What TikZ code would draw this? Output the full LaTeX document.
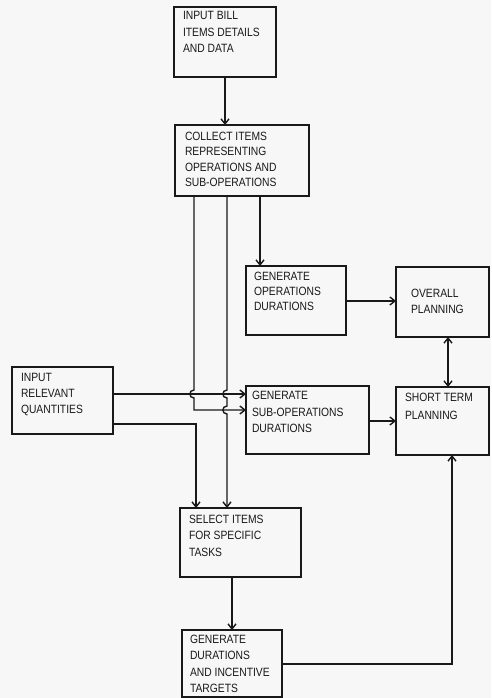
\documentclass[tikz,border=0pt]{standalone}
\usepackage{fontspec}
\setmainfont[FakeStretch=0.86]{Liberation Sans}
\usetikzlibrary{arrows.meta,calc}
\definecolor{paper}{RGB}{247,247,247}
\definecolor{ink}{RGB}{25,25,25}
\tikzset{
  box/.style={draw=ink, line width=1.4pt, inner sep=0pt, outer sep=0pt, anchor=north west},
  txt/.style={inner sep=0pt, outer sep=0pt, anchor=north west, align=left, text=ink},
  arr/.style={draw=ink, line width=1.4pt, -{Straight Barb[length=5pt,width=8pt]}},
  arrboth/.style={draw=ink, line width=1.4pt, {Straight Barb[length=5pt,width=8pt]}-{Straight Barb[length=5pt,width=8pt]}}
}
\newcommand{\fs}[1]{\fontsize{12}{#1}\selectfont}
\begin{document}
\begin{tikzpicture}[x=1pt,y=-1pt]
\fill[paper] (0,0) rectangle (491,698);
\useasboundingbox (0,0) rectangle (491,698);

% boxes
\node[box, minimum width=102, minimum height=70] (b1) at (174,7) {};
\node[box, minimum width=134, minimum height=71] (b2) at (175,125) {};
\node[box, minimum width=100, minimum height=69] (b3) at (246,266) {};
\node[box, minimum width=93,  minimum height=70] (b4) at (396,267) {};
\node[box, minimum width=101, minimum height=67] (b5) at (12,367) {};
\node[box, minimum width=123, minimum height=68] (b6) at (246,386) {};
\node[box, minimum width=93,  minimum height=68] (b7) at (396,387) {};
\node[box, minimum width=121, minimum height=69] (b8) at (180,508) {};
\node[box, minimum width=100, minimum height=67] (b9) at (182,630) {};

% texts
\node[txt, font=\fs{16.5}] (t1) at (183,11.7) {INPUT BILL\\ITEMS DETAILS\\AND DATA};
\node[txt, font=\fs{15.5}] (t2) at (185,131.7) {COLLECT ITEMS\\REPRESENTING\\OPERATIONS AND\\SUB-OPERATIONS};
\node[txt, font=\fs{15}] (t3) at (254,271.7) {GENERATE\\OPERATIONS\\DURATIONS};
\node[txt, font=\fs{16}] (t4) at (411,288.7) {OVERALL\\PLANNING};
\node[txt, font=\fs{15.8}] (t5) at (21,373.7) {INPUT\\RELEVANT\\QUANTITIES};
\node[txt, font=\fs{16.5}] (t6) at (252,391.2) {GENERATE\\SUB-OPERATIONS\\DURATIONS};
\node[txt, font=\fs{17.5}] (t7) at (405,393.2) {SHORT TERM\\PLANNING};
\node[txt, font=\fs{16.5}] (t8) at (189,514.7) {SELECT ITEMS\\FOR SPECIFIC\\TASKS};
\node[txt, font=\fs{16.5}] (t9) at (190,634.7) {GENERATE\\DURATIONS\\AND INCENTIVE\\TARGETS};

% helper coordinates (columns and rows)
\coordinate (cA) at (194,0);
\coordinate (cA2) at (196,0);
\coordinate (cB) at (227,0);
\coordinate (cC) at (260,0);
\coordinate (cD) at (448,0);
\coordinate (cE) at (452,0);
\coordinate (cF) at (232,0);
\coordinate (r1) at (0,301);
\coordinate (r2) at (0,394);
\coordinate (r3) at (0,410);
\coordinate (r4) at (0,421);
\coordinate (r5) at (0,424);
\coordinate (r6) at (0,664);

% connectors
\draw[arr] (b1.south) -- (b1.south |- b2.north);
\draw[arr] (b2.south -| cC) -- (b3.north -| cC);
\draw[arr] (b2.south -| cA) -- ($(cA |- r2)+(0,-4)$)
   .. controls +(-5.5,0) and +(-5.5,0) .. +(0,8)
   -- (cA |- r3) -- (b6.west |- r3);
\draw[arr] (b2.south -| cB) -- ($(cB |- r2)+(0,-4)$)
   .. controls +(-5.5,0) and +(-5.5,0) .. +(0,8)
   -- ($(cB |- r3)+(0,-4)$)
   .. controls +(-5.5,0) and +(-5.5,0) .. +(0,8)
   -- (b8.north -| cB);
\draw[arr] (b5.east |- r2) -- (b6.west |- r2);
\draw[arr] (b5.east |- r5) -- (cA2 |- r5) -- (b8.north -| cA2);
\draw[arr] (b3.east |- r1) -- (b4.west |- r1);
\draw[arr] (b6.east |- r4) -- (b7.west |- r4);
\draw[arrboth] (b4.south -| cD) -- (b7.north -| cD);
\draw[arr] (b8.south -| cF) -- (b9.north -| cF);
\draw[arr] (b9.east |- r6) -- (cE |- r6) -- (b7.south -| cE);
\end{tikzpicture}
\end{document}
